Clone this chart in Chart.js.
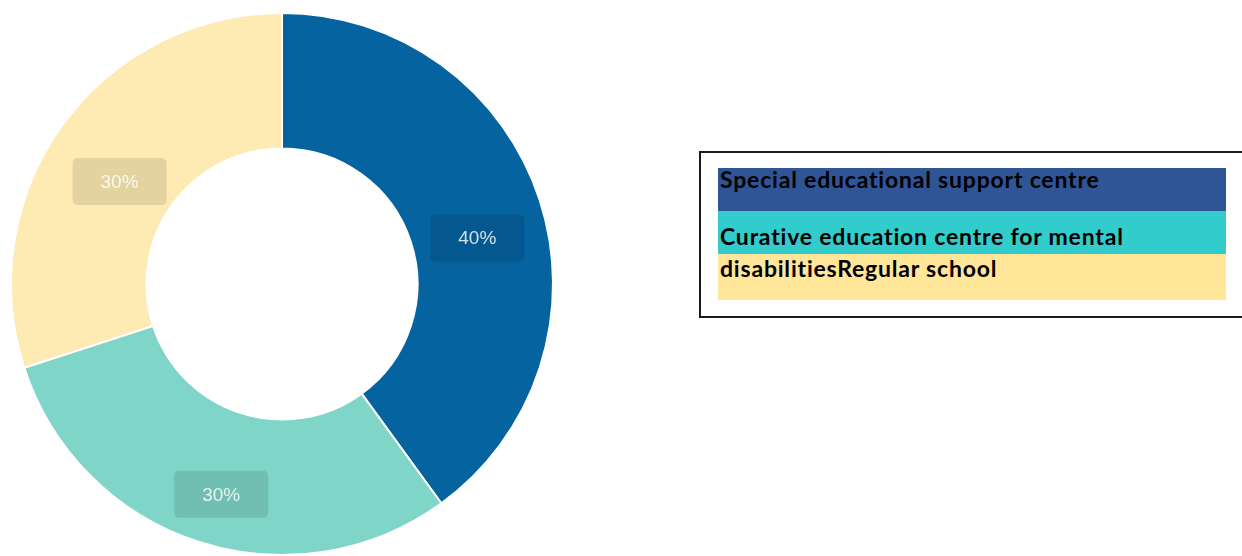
<!DOCTYPE html>
<html>
<head>
<meta charset="utf-8">
<script src="https://cdn.jsdelivr.net/npm/chart.js@4.4.1/dist/chart.umd.min.js"></script>
<style>
  html, body { margin: 0; padding: 0; background: #fff; }
  body { width: 1242px; height: 556px; position: relative; overflow: hidden; }
  #wrap { position: absolute; left: 0; top: 0; width: 564px; height: 556px; }
  #legendBox { position: absolute; left: 699px; top: 151px; width: 560px; height: 163px;
    border: 2px solid #1a1a1a; box-sizing: content-box; }
  .bar { position: absolute; left: 718px; width: 508px; }
  .txt { position: absolute; left: 720px; font-family: Lato, "Liberation Sans", sans-serif;
    font-weight: 700; font-size: 23px; letter-spacing: 0.8px; color: #000; white-space: nowrap;
    line-height: 1; font-variant-ligatures: none; font-feature-settings: "liga" 0; }
</style>
</head>
<body>
<div id="wrap"><canvas id="myChart"></canvas></div>
<div id="legendBox"></div>
<div id="legend"></div>

<script>
// data
var categories = ['Special educational support centre', 'Curative education centre for mental disabilities', 'Regular school'];
var shares = [40, 30, 30];
var sliceColors = ['#0563a0', '#7ed5c8', '#fdebb3'];

// legend as it appears in the picture (odd wrap of the text box)
var legendLines = ['Special educational support centre', 'Curative education centre for mental', 'disabilitiesRegular school'];
var legendColors = ['#2f5597', '#33cccc', '#ffe699'];

// legend bars + text
var barTops = [168, 211, 254];
var barHeights = [43, 43, 46];
var textTops = [168, 225, 257];
var leg = document.getElementById('legend');
for (var i = 0; i < legendLines.length; i++) {
    var b = document.createElement('div');
    b.className = 'bar';
    b.style.top = barTops[i] + 'px';
    b.style.height = barHeights[i] + 'px';
    b.style.background = legendColors[i];
    leg.appendChild(b);
}
for (var i = 0; i < legendLines.length; i++) {
    var t = document.createElement('div');
    t.className = 'txt';
    t.style.top = textTops[i] + 'px';
    t.textContent = legendLines[i];
    leg.appendChild(t);
}

// percent boxes on the slices
var boxLabels = {
    id: 'boxLabels',
    afterDatasetsDraw: function (chart) {
        var ctx = chart.ctx;
        var meta = chart.getDatasetMeta(0);
        ctx.save();
        meta.data.forEach(function (arc, idx) {
            var p = arc.getCenterPoint();
            var cx = p.x + 2, cy = p.y + 17;
            var w = 94, h = 47;
            ctx.fillStyle = 'rgba(0,0,0,0.1)';
            ctx.beginPath();
            ctx.roundRect(cx - w / 2, cy - h / 2, w, h, 5);
            ctx.fill();
            ctx.fillStyle = 'rgba(255,255,255,0.82)';
            ctx.font = '19px "Liberation Sans", Arial, sans-serif';
            ctx.textAlign = 'center';
            ctx.textBaseline = 'middle';
            ctx.fillText(shares[idx] + '%', cx, cy + 1);
        });
        ctx.restore();
    }
};

const config = {
    type: 'doughnut',
    data: {
        labels: categories,
        datasets: [{
            data: shares,
            backgroundColor: sliceColors,
            borderColor: '#ffffff',
            borderWidth: 2
        }]
    },
    options: {
        responsive: true,
        maintainAspectRatio: false,
        animation: false,
        cutout: '50%',
        layout: { padding: { top: 12, left: 10, right: 10, bottom: 0 } },
        plugins: {
            legend: { display: false },
            tooltip: { enabled: false }
        }
    },
    plugins: [boxLabels]
};

var myChart = new Chart(document.getElementById('myChart'), config);
</script>
</body>
</html>
